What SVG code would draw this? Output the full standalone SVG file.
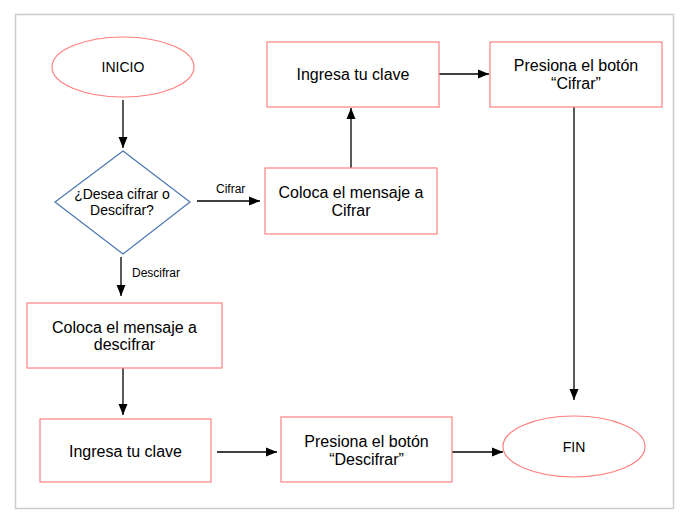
<svg xmlns="http://www.w3.org/2000/svg" width="691" height="526" viewBox="0 0 691 526">
  <style>
    .box { fill: #ffffff; stroke: #ff8080; stroke-width: 1.2; }
    .dec { fill: #ffffff; stroke: #4a76b0; stroke-width: 1.2; }
    .t { font-family: "Liberation Sans", Arial, sans-serif; font-size: 16px; fill: #000; text-anchor: middle; }
    .td { font-family: "Liberation Sans", Arial, sans-serif; font-size: 14px; fill: #000; text-anchor: middle; }
    .lbl { font-family: "Liberation Sans", Arial, sans-serif; font-size: 12px; fill: #000; }
    .c { fill: none; stroke: #000; stroke-width: 1.3; }
  </style>
  <defs>
    <marker id="arr" markerWidth="12" markerHeight="10" refX="11" refY="5" orient="auto" markerUnits="userSpaceOnUse">
      <path d="M0,0.5 L11,5 L0,9.5 Z" fill="#000"/>
    </marker>
  </defs>
  <rect x="15.5" y="14.5" width="658" height="494" fill="#ffffff" stroke="#cccccc" stroke-width="1.5"/>

  <g id="connectors">
    <line class="c" x1="123" y1="100" x2="123" y2="148" marker-end="url(#arr)"/>
    <line class="c" x1="197" y1="201" x2="260" y2="201" marker-end="url(#arr)"/>
    <text class="lbl" x="216" y="193">Cifrar</text>
    <line class="c" x1="121" y1="257" x2="121" y2="296" marker-end="url(#arr)"/>
    <text class="lbl" x="132" y="277">Descifrar</text>
    <line class="c" x1="351" y1="168" x2="351" y2="108" marker-end="url(#arr)"/>
    <line class="c" x1="439" y1="74" x2="489" y2="74" marker-end="url(#arr)"/>
    <line class="c" x1="574" y1="107" x2="574" y2="400" marker-end="url(#arr)"/>
    <line class="c" x1="123" y1="368" x2="123" y2="415" marker-end="url(#arr)"/>
    <line class="c" x1="217" y1="452" x2="277" y2="452" marker-end="url(#arr)"/>
    <line class="c" x1="452" y1="452" x2="503" y2="452" marker-end="url(#arr)"/>
  </g>

  <g id="inicio">
    <ellipse class="box" cx="123" cy="67" rx="71" ry="30"/>
    <text class="td" x="123" y="71.5">INICIO</text>
  </g>
  <g id="decision">
    <polygon class="dec" points="123,151 190,202 123,254 55,202"/>
    <text class="td" x="122" y="199">¿Desea cifrar o</text>
    <text class="td" x="122" y="215">Descifrar?</text>
  </g>
  <g id="coloca-cifrar">
    <rect class="box" x="265" y="168" width="172" height="66"/>
    <text class="t" x="351" y="197.5">Coloca el mensaje a</text>
    <text class="t" x="351" y="215.5">Cifrar</text>
  </g>
  <g id="ingresa-clave-1">
    <rect class="box" x="267" y="42" width="172" height="65"/>
    <text class="t" x="353" y="79.5">Ingresa tu clave</text>
  </g>
  <g id="presiona-cifrar">
    <rect class="box" x="490" y="42" width="172" height="65"/>
    <text class="t" x="576" y="70.5">Presiona el botón</text>
    <text class="t" x="576" y="88.5">“Cifrar”</text>
  </g>
  <g id="coloca-descifrar">
    <rect class="box" x="27" y="303" width="195" height="65"/>
    <text class="t" x="124.5" y="332.5">Coloca el mensaje a</text>
    <text class="t" x="124.5" y="349.5">descifrar</text>
  </g>
  <g id="ingresa-clave-2">
    <rect class="box" x="40" y="419" width="171" height="63"/>
    <text class="t" x="125.5" y="456.5">Ingresa tu clave</text>
  </g>
  <g id="presiona-descifrar">
    <rect class="box" x="281" y="417" width="171" height="65"/>
    <text class="t" x="366.5" y="446.5">Presiona el botón</text>
    <text class="t" x="366.5" y="464.5">“Descifrar”</text>
  </g>
  <g id="fin">
    <ellipse class="box" cx="574" cy="446.5" rx="71" ry="30.5"/>
    <text class="td" x="574" y="451.5">FIN</text>
  </g>
</svg>
